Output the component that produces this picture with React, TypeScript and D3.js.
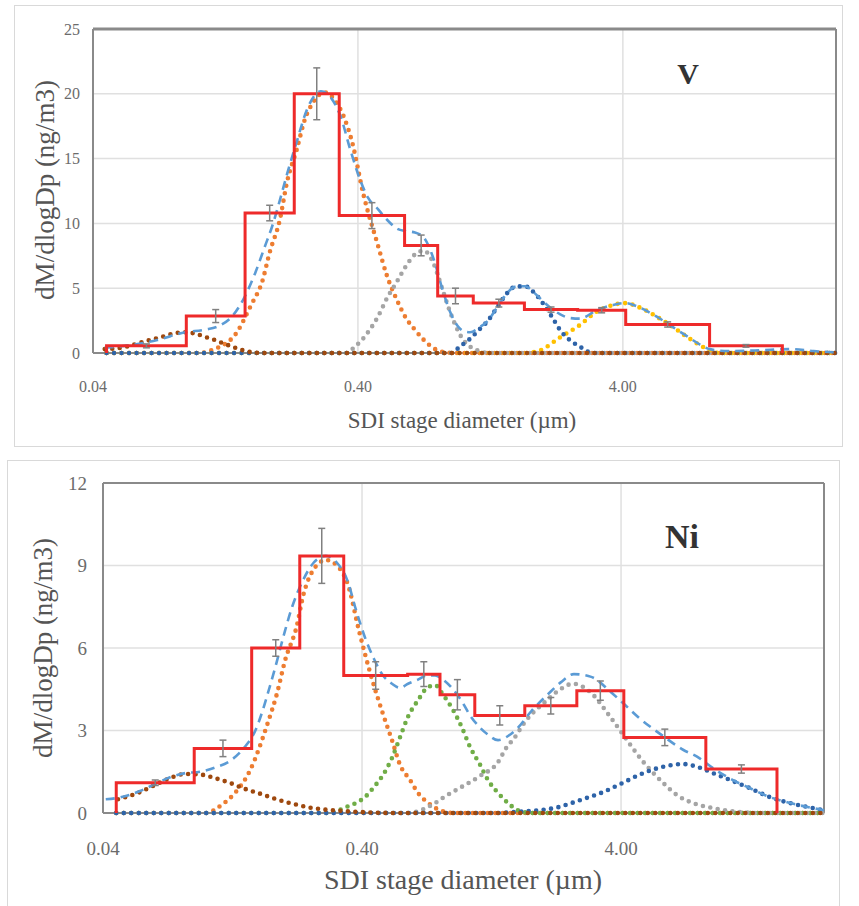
import React from 'react';
import * as d3 from 'd3';

type Pt = [number, number];

// SDI stage bins (µm), same for both elements
const binEdges = [0.045, 0.09, 0.15, 0.23, 0.34, 0.6, 0.8, 1.09, 1.7, 2.7, 4.1, 8.5, 16];

const xTicks = [0.04, 0.4, 4];
const xTickLabels = ['0.04', '0.40', '4.00'];

// ---- V ----
const vMeasured = [0.55, 2.85, 10.8, 20.0, 10.6, 8.3, 4.4, 3.85, 3.35, 3.3, 2.2, 0.55];
const vError = [0.15, 0.5, 0.6, 2.0, 1.0, 0.8, 0.6, 0.3, 0.2, 0.2, 0.2, 0.1];
const vYTicks = [0, 5, 10, 15, 20, 25];

const vFit: Pt[] = [[0.0443, 0.4], [0.055, 0.6], [0.07, 1.0], [0.089, 1.6], [0.106, 1.8], [0.12, 2.1], [0.135, 2.9], [0.15, 4.4], [0.164, 6.2], [0.178, 8.2], [0.19, 9.8], [0.203, 11.8], [0.216, 13.8], [0.235, 16.3], [0.257, 18.8], [0.29, 20.2], [0.342, 18.4], [0.373, 15.8], [0.407, 13.4], [0.436, 12.0], [0.476, 11.1], [0.514, 10.3], [0.561, 9.6], [0.607, 9.4], [0.656, 9.3], [0.71, 8.9], [0.768, 7.4], [0.837, 4.8], [0.89, 3.2], [0.95, 2.1], [1.0, 1.7], [1.06, 1.6], [1.154, 2.0], [1.239, 2.5], [1.339, 3.5], [1.46, 4.6], [1.564, 5.1], [1.706, 5.15], [1.862, 4.6], [1.995, 4.0], [2.158, 3.4], [2.313, 3.0], [2.52, 2.7], [2.75, 2.65], [3.19, 3.3], [3.66, 3.7], [4.07, 3.85], [4.64, 3.5], [5.37, 2.8], [6.18, 2.0], [6.98, 1.3], [7.82, 0.65], [8.52, 0.3], [10, 0.15], [13, 0.2], [17, 0.3], [21, 0.15], [25, 0.05]];
const vOrange: Pt[] = [[0.045, 0], [0.1, 0], [0.115, 0.3], [0.128, 0.8], [0.135, 1.2], [0.159, 3.8], [0.174, 5.5], [0.186, 7.8], [0.203, 10.3], [0.216, 13.2], [0.235, 15.7], [0.252, 18.0], [0.27, 19.3], [0.3, 20.1], [0.33, 19.4], [0.351, 18.4], [0.38, 16.3], [0.42, 12.2], [0.476, 8.3], [0.514, 6.0], [0.561, 4.1], [0.607, 2.7], [0.656, 1.8], [0.71, 1.0], [0.768, 0.4], [0.85, 0.05], [0.95, 0], [25.5, 0]];
const vGray: Pt[] = [[0.045, 0], [0.36, 0], [0.39, 0.5], [0.414, 1.0], [0.44, 1.7], [0.476, 2.8], [0.514, 4.2], [0.561, 5.5], [0.607, 6.7], [0.656, 7.6], [0.71, 7.9], [0.768, 7.0], [0.837, 4.8], [0.89, 3.2], [0.95, 1.8], [1.0, 1.0], [1.06, 0.5], [1.15, 0.15], [1.25, 0], [25.5, 0]];
const vYellow: Pt[] = [[0.045, 0], [1.7, 0], [1.945, 0.2], [2.313, 1.2], [2.75, 2.15], [3.19, 3.2], [3.66, 3.7], [4.07, 3.85], [4.64, 3.5], [5.37, 2.8], [6.18, 2.0], [6.98, 1.25], [7.82, 0.6], [8.52, 0.2], [9.3, 0], [25.5, 0]];
const vBlue: Pt[] = [[0.045, 0], [0.9, 0], [0.971, 0.5], [1.06, 1.1], [1.154, 1.85], [1.239, 2.5], [1.339, 3.5], [1.46, 4.6], [1.564, 5.1], [1.706, 5.15], [1.862, 4.6], [1.995, 3.85], [2.158, 2.8], [2.313, 1.8], [2.52, 1.0], [2.75, 0.5], [2.95, 0.1], [3.1, 0], [25.5, 0]];
const vBrown: Pt[] = [[0.0443, 0.3], [0.0539, 0.5], [0.0591, 0.75], [0.0656, 1.0], [0.0728, 1.25], [0.0802, 1.5], [0.0889, 1.6], [0.097, 1.5], [0.1058, 1.25], [0.1154, 1.0], [0.1238, 0.75], [0.1338, 0.5], [0.145, 0.25], [0.16, 0.05], [0.175, 0], [25.5, 0]];

// ---- Ni ----
const niMeasured = [1.1, 2.35, 6.0, 9.35, 5.0, 5.05, 4.3, 3.55, 3.9, 4.45, 2.75, 1.6];
const niError = [0.1, 0.3, 0.3, 1.0, 0.5, 0.45, 0.55, 0.35, 0.3, 0.35, 0.3, 0.15];
const niYTicks = [0, 3, 6, 9, 12];

const niFit: Pt[] = [[0.041, 0.5], [0.0457, 0.55], [0.0556, 0.8], [0.0635, 1.05], [0.0726, 1.3], [0.083, 1.45], [0.0948, 1.5], [0.108, 1.65], [0.124, 1.9], [0.141, 2.4], [0.155, 3.0], [0.165, 3.7], [0.175, 4.5], [0.185, 5.3], [0.2, 6.5], [0.215, 7.5], [0.235, 8.4], [0.26, 9.1], [0.29, 9.35], [0.32, 9.1], [0.353, 8.4], [0.376, 7.5], [0.41, 6.4], [0.445, 5.6], [0.482, 5.0], [0.522, 4.7], [0.561, 4.55], [0.602, 4.7], [0.658, 4.85], [0.713, 5.0], [0.766, 5.0], [0.822, 4.85], [0.898, 4.5], [0.973, 4.05], [1.045, 3.55], [1.143, 3.1], [1.225, 2.85], [1.34, 2.65], [1.465, 2.8], [1.6, 3.1], [1.8, 3.7], [2.08, 4.3], [2.34, 4.75], [2.63, 5.05], [3.07, 4.95], [3.65, 4.4], [4.07, 4.0], [4.64, 3.5], [5.81, 2.8], [6.94, 2.3], [7.86, 2.05], [9.06, 1.63], [10.55, 1.25], [12.6, 0.9], [15, 0.58], [18, 0.36], [22, 0.18], [24.3, 0.1]];
const niOrange: Pt[] = [[0.045, 0], [0.1, 0], [0.115, 0.3], [0.127, 0.65], [0.148, 1.56], [0.173, 3.27], [0.188, 4.36], [0.202, 5.56], [0.224, 6.8], [0.237, 7.9], [0.256, 8.75], [0.29, 9.2], [0.32, 9.0], [0.353, 8.3], [0.39, 6.6], [0.43, 5.1], [0.482, 3.6], [0.522, 2.65], [0.561, 1.75], [0.613, 1.2], [0.658, 0.73], [0.713, 0.4], [0.8, 0.1], [0.9, 0], [24.3, 0]];
const niGreen: Pt[] = [[0.045, 0], [0.3, 0], [0.344, 0.2], [0.376, 0.35], [0.411, 0.58], [0.445, 0.95], [0.482, 1.38], [0.522, 2.0], [0.561, 2.76], [0.602, 3.5], [0.658, 4.1], [0.713, 4.55], [0.766, 4.65], [0.822, 4.3], [0.898, 3.75], [0.973, 3.1], [1.045, 2.4], [1.143, 1.75], [1.225, 1.2], [1.34, 0.73], [1.465, 0.36], [1.6, 0.1], [1.8, 0], [24.3, 0]];
const niGray: Pt[] = [[0.045, 0], [0.6, 0], [0.675, 0.1], [0.766, 0.36], [0.836, 0.6], [0.97, 0.95], [1.143, 1.35], [1.34, 1.85], [1.44, 2.36], [1.55, 2.73], [1.69, 3.27], [2.07, 4.1], [2.33, 4.5], [2.61, 4.7], [3.04, 4.4], [3.63, 3.5], [4.33, 2.5], [4.65, 2.1], [5.81, 1.1], [6.58, 0.65], [7.59, 0.36], [9.06, 0.18], [11.0, 0.05], [13.8, 0], [24.3, 0]];
const niBlue: Pt[] = [[0.045, 0], [1.3, 0], [1.63, 0.05], [2.26, 0.2], [2.78, 0.47], [3.41, 0.76], [4.07, 1.1], [4.87, 1.45], [5.81, 1.68], [6.94, 1.78], [7.86, 1.68], [9.06, 1.45], [10.55, 1.2], [12.6, 0.9], [15, 0.58], [18, 0.36], [22, 0.18], [24.3, 0.1]];
const niBrown: Pt[] = [[0.0457, 0.5], [0.0556, 0.76], [0.0635, 1.02], [0.0726, 1.27], [0.083, 1.42], [0.0948, 1.4], [0.108, 1.27], [0.124, 1.09], [0.141, 0.88], [0.162, 0.7], [0.184, 0.52], [0.211, 0.36], [0.258, 0.18], [0.329, 0.08], [0.429, 0.02], [0.55, 0], [24.3, 0]];

const FONT = '"Liberation Serif", "Times New Roman", serif';

const panels = [
  {
    id: 'v', label: 'V',
    frame: { x: 14.5, y: 5.5, w: 828, h: 441 },
    plot: { left: 93, right: 836, top: 29, bottom: 353 },
    xMax: 25.5, yMax: 25, yTicks: vYTicks,
    measured: vMeasured, error: vError, fit: vFit,
    modes: [
      { pts: vOrange, color: '#ED7D31' },
      { pts: vGray, color: '#A5A5A5' },
      { pts: vYellow, color: '#FFC000' },
      { pts: vBlue, color: '#2E63A8' },
      { pts: vBrown, color: '#9E480E' },
    ],
    tickSize: 16, yTickX: 80, xTickY: 392,
    xTitle: { x: 462, y: 428, size: 23 }, yTitle: { x: 45, y: 190, size: 27 },
    labelPos: { x: 688, y: 84, size: 30 }, borderTop: 3,
  },
  {
    id: 'ni', label: 'Ni',
    frame: { x: 7.5, y: 460.5, w: 832, h: 460 },
    plot: { left: 103, right: 824, top: 483, bottom: 813 },
    xMax: 24.3, yMax: 12, yTicks: niYTicks,
    measured: niMeasured, error: niError, fit: niFit,
    modes: [
      { pts: niOrange, color: '#ED7D31' },
      { pts: niGreen, color: '#70AD47' },
      { pts: niGray, color: '#A5A5A5' },
      { pts: niBlue, color: '#2E63A8' },
      { pts: niBrown, color: '#9E480E' },
    ],
    tickSize: 19, yTickX: 87, xTickY: 855,
    xTitle: { x: 463, y: 889, size: 28 }, yTitle: { x: 43, y: 648, size: 27 },
    labelPos: { x: 682, y: 548, size: 34 }, borderTop: 2,
  },
];

function Panel({ cfg }: { cfg: any }) {
  const { left, right, top, bottom } = cfg.plot;
  const x = d3.scaleLog().domain([0.04, cfg.xMax]).range([left, right]);
  const y = d3.scaleLinear().domain([0, cfg.yMax]).range([bottom, top]);
  const line = d3.line<Pt>().x(d => x(d[0])).y(d => y(d[1])).curve(d3.curveMonotoneX);

  // step outline of the measured stage values
  const last = binEdges.length - 1;
  let hist = `M${x(binEdges[0])},${y(0)}`;
  cfg.measured.forEach((v: number, i: number) => {
    hist += `L${x(binEdges[i])},${y(v)}L${x(binEdges[i + 1])},${y(v)}`;
  });
  hist += `L${x(binEdges[last])},${y(0)}`;

  const clipId = `clip-${cfg.id}`;

  return (
    <g>
      <rect x={cfg.frame.x} y={cfg.frame.y} width={cfg.frame.w} height={cfg.frame.h}
        fill="#fff" stroke="#d9d9d9" strokeWidth={1} />
      <clipPath id={clipId}>
        <rect x={left - 4} y={top - 4} width={right - left + 8} height={bottom - top + 8} />
      </clipPath>

      {/* grid */}
      {cfg.yTicks.slice(1, -1).map((t: number) => (
        <line key={'gy' + t} x1={left} x2={right} y1={y(t)} y2={y(t)} stroke="#e0e0e0" strokeWidth={1.5} />
      ))}
      {xTicks.slice(1).map(t => (
        <line key={'gx' + t} x1={x(t)} x2={x(t)} y1={top} y2={bottom} stroke="#e0e0e0" strokeWidth={1.5} />
      ))}

      {/* border */}
      <line x1={left} x2={right} y1={top} y2={top} stroke="#8a8a8a" strokeWidth={cfg.borderTop} />
      <line x1={right} x2={right} y1={top} y2={bottom} stroke="#8a8a8a" strokeWidth={2} />
      <line x1={left} x2={left} y1={top} y2={bottom} stroke="#8a8a8a" strokeWidth={2} />
      <line x1={left} x2={right} y1={bottom} y2={bottom} stroke="#8a8a8a" strokeWidth={2} />

      {/* tick labels */}
      {cfg.yTicks.map((t: number) => (
        <text key={'ty' + t} x={cfg.yTickX} y={y(t)} dy="0.35em" textAnchor="end"
          fontFamily={FONT} fontSize={cfg.tickSize} fill="#6b6b6b">{t}</text>
      ))}
      {xTicks.map((t, i) => (
        <text key={'tx' + t} x={x(t)} y={cfg.xTickY} textAnchor="middle"
          fontFamily={FONT} fontSize={cfg.tickSize} fill="#6b6b6b">{xTickLabels[i]}</text>
      ))}

      <g clipPath={`url(#${clipId})`}>
        {cfg.modes.map((m: any, i: number) => (
          <path key={'m' + i} d={line(m.pts) || ''} fill="none" stroke={m.color}
            strokeWidth={4.6} strokeLinecap="round" strokeDasharray="0 7.5" />
        ))}
        <path d={line(cfg.fit) || ''} fill="none" stroke="#5B9BD5" strokeWidth={2.6}
          strokeDasharray="9 6" />
        <path d={hist} fill="none" stroke="#ee2a2a" strokeWidth={3} strokeLinejoin="miter" />
        {cfg.measured.map((v: number, i: number) => {
          const cx = x(Math.sqrt(binEdges[i] * binEdges[i + 1]));
          const e = cfg.error[i];
          return (
            <g key={'e' + i} stroke="#808080" strokeWidth={1.5}>
              <line x1={cx} x2={cx} y1={y(v - e)} y2={y(v + e)} />
              <line x1={cx - 3.5} x2={cx + 3.5} y1={y(v - e)} y2={y(v - e)} />
              <line x1={cx - 3.5} x2={cx + 3.5} y1={y(v + e)} y2={y(v + e)} />
            </g>
          );
        })}
      </g>

      <text x={cfg.labelPos.x} y={cfg.labelPos.y} textAnchor="middle" fontFamily={FONT}
        fontWeight="bold" fontSize={cfg.labelPos.size} fill="#333">{cfg.label}</text>

      <text x={cfg.xTitle.x} y={cfg.xTitle.y} textAnchor="middle" fontFamily={FONT}
        fontSize={cfg.xTitle.size} fill="#555">SDI stage diameter (µm)</text>
      <text transform={`translate(${cfg.yTitle.x},${cfg.yTitle.y}) rotate(-90)`} textAnchor="middle"
        dy="0.35em" fontFamily={FONT} fontSize={cfg.yTitle.size} fill="#555">dM/dlogDp (ng/m3)</text>
    </g>
  );
}

export default function App() {
  return (
    <svg width={859} height={906} style={{ position: 'absolute', left: 0, top: 0, background: '#fff' }}>
      <rect width={859} height={906} fill="#fff" />
      {panels.map(p => <Panel key={p.id} cfg={p} />)}
    </svg>
  );
}
